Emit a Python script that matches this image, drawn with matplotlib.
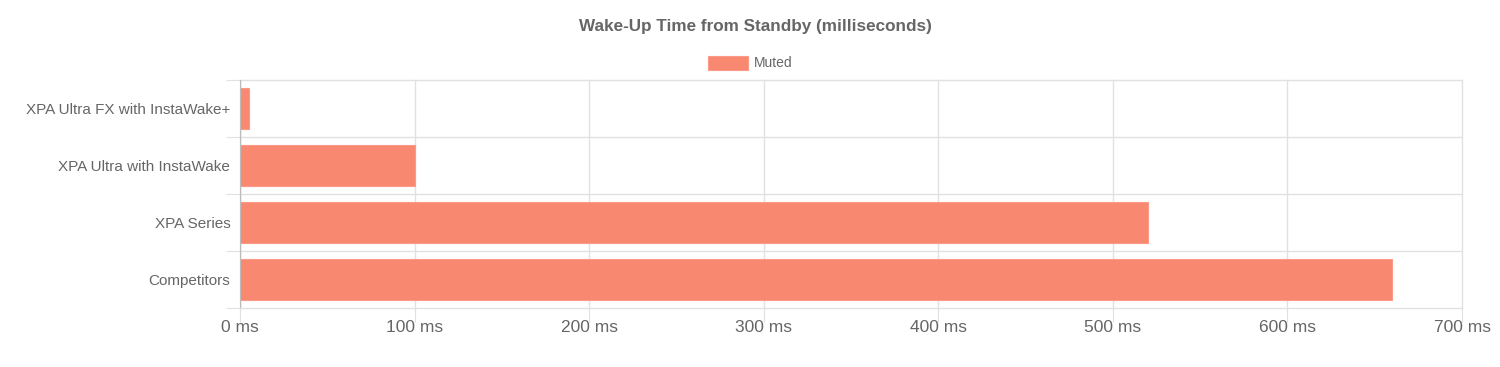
import matplotlib
matplotlib.use("Agg")
import matplotlib.pyplot as plt
from matplotlib.patches import Rectangle

categories = ["XPA Ultra FX with InstaWake+", "XPA Ultra with InstaWake", "XPA Series", "Competitors"]
values = [5, 100, 520, 660]
xticks = [0, 100, 200, 300, 400, 500, 600, 700]
title = "Wake-Up Time from Standby (milliseconds)"
series_name = "Muted"

plt.rcParams['font.family'] = ['Liberation Sans', 'DejaVu Sans']
TXT = '#666666'
GRID = '#e1e1e1'
BAR = '#f98871'

W, H = 1500, 367
fig = plt.figure(figsize=(W/100, H/100), dpi=100)
L, R, T, B = 240, 1462, 80, 308
ax = fig.add_axes([L/W, 1-B/H, (R-L)/W, (B-T)/H])

n = len(categories)
ypos = list(range(n))
ax.barh(ypos, values, height=0.72, color=BAR, edgecolor='#fb9a86', linewidth=0.8, zorder=3)
ax.set_ylim(n-0.5, -0.5)
ax.set_xlim(0, 700)

# grid
for x in xticks:
    ax.axvline(x, color=GRID, lw=1, zorder=1, clip_on=False)
for i in range(n+1):
    ax.axhline(i-0.5, color=GRID, lw=1, zorder=1, clip_on=False)
ax.axvline(0, color='#bbbbbb', lw=1, zorder=4)

for s in ax.spines.values():
    s.set_visible(False)

ax.set_xticks(xticks)
ax.set_xticklabels([f"{v} ms" for v in xticks], fontsize=12.5, color=TXT)
ax.tick_params(axis='x', length=10, color=GRID, pad=-1)
ax.set_yticks([i - 0.5 for i in range(n+1)], minor=False)
ax.set_yticklabels([])
ax.tick_params(axis='y', length=10, color=GRID)
ax.set_yticks(ypos, minor=True)
ax.set_yticklabels(categories, minor=True, fontsize=11, color=TXT)
ax.tick_params(axis='y', which='minor', length=0, pad=7)

fig.text(755/W, 1-27/H, title, ha='center', va='center', fontsize=12.3, fontweight='bold', color=TXT)

# legend
bx0, by0, bw, bh = 708, 56, 40, 14
fig.patches.append(Rectangle((bx0/W, 1-(by0+bh)/H), bw/W, bh/H, transform=fig.transFigure,
                             facecolor=BAR, edgecolor='#fb9a86', lw=0.8))
fig.text(754/W, 1-63/H, series_name, ha='left', va='center', fontsize=10, color=TXT)

fig.savefig("out.png", dpi=100)
